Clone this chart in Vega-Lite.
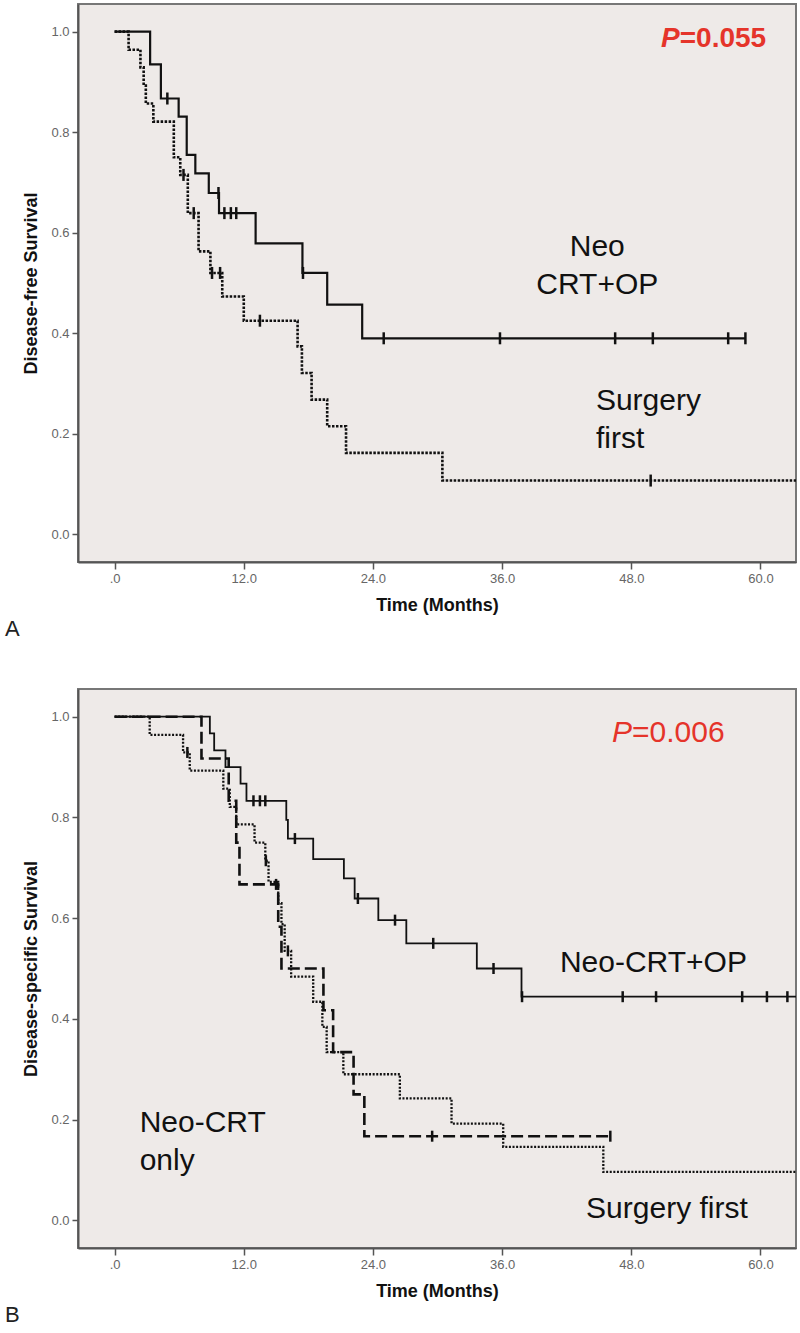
{
  "$schema": "https://vega.github.io/schema/vega-lite/v6.json",
  "background": "white",
  "padding": {"left": 3, "top": 3, "right": 2, "bottom": 0},
  "config": {
    "view": {"fill": "#EEEAE8", "stroke": "#777777", "strokeWidth": 2},
    "axis": {
      "grid": false, "domainColor": "#555555", "domainWidth": 2,
      "tickColor": "#555555", "tickWidth": 1.5,
      "labelColor": "#666666", "labelFont": "Liberation Sans", "labelFontSize": 13,
      "titleFont": "Liberation Sans", "titleFontSize": 18, "titleFontWeight": "bold", "titleColor": "#111111"
    },
    "title": {"font": "Liberation Sans"},
    "text": {"font": "Liberation Sans"},
    "concat": {"spacing": 47}
  },
  "datasets": {
    "kmA": [
      {"group": "Neo CRT+OP", "t": 0, "s": 1.0},
      {"group": "Neo CRT+OP", "t": 3.3, "s": 0.935},
      {"group": "Neo CRT+OP", "t": 4.3, "s": 0.867},
      {"group": "Neo CRT+OP", "t": 5.95, "s": 0.831},
      {"group": "Neo CRT+OP", "t": 6.7, "s": 0.755},
      {"group": "Neo CRT+OP", "t": 7.5, "s": 0.718},
      {"group": "Neo CRT+OP", "t": 8.75, "s": 0.679},
      {"group": "Neo CRT+OP", "t": 9.7, "s": 0.639},
      {"group": "Neo CRT+OP", "t": 13.1, "s": 0.579},
      {"group": "Neo CRT+OP", "t": 17.45, "s": 0.52},
      {"group": "Neo CRT+OP", "t": 19.75, "s": 0.457},
      {"group": "Neo CRT+OP", "t": 23.0, "s": 0.39},
      {"group": "Neo CRT+OP", "t": 58.6, "s": 0.39},
      {"group": "Surgery first", "t": 0, "s": 1.0},
      {"group": "Surgery first", "t": 1.3, "s": 0.964},
      {"group": "Surgery first", "t": 2.4, "s": 0.929},
      {"group": "Surgery first", "t": 2.7, "s": 0.893},
      {"group": "Surgery first", "t": 2.9, "s": 0.857},
      {"group": "Surgery first", "t": 3.6, "s": 0.821},
      {"group": "Surgery first", "t": 5.5, "s": 0.75},
      {"group": "Surgery first", "t": 6.1, "s": 0.715},
      {"group": "Surgery first", "t": 6.8, "s": 0.639},
      {"group": "Surgery first", "t": 7.8, "s": 0.563},
      {"group": "Surgery first", "t": 8.9, "s": 0.52},
      {"group": "Surgery first", "t": 10.0, "s": 0.473},
      {"group": "Surgery first", "t": 12.0, "s": 0.425},
      {"group": "Surgery first", "t": 17.0, "s": 0.374},
      {"group": "Surgery first", "t": 17.4, "s": 0.321},
      {"group": "Surgery first", "t": 18.3, "s": 0.268},
      {"group": "Surgery first", "t": 19.75, "s": 0.215},
      {"group": "Surgery first", "t": 21.5, "s": 0.162},
      {"group": "Surgery first", "t": 30.45, "s": 0.107},
      {"group": "Surgery first", "t": 63.3, "s": 0.107}
    ],
    "censA": [
      {"t": 4.9, "s": 0.867}, {"t": 9.65, "s": 0.679}, {"t": 10.2, "s": 0.639},
      {"t": 10.8, "s": 0.639}, {"t": 11.3, "s": 0.639}, {"t": 17.5, "s": 0.52},
      {"t": 25.0, "s": 0.39}, {"t": 35.8, "s": 0.39}, {"t": 46.5, "s": 0.39},
      {"t": 50.0, "s": 0.39}, {"t": 57.0, "s": 0.39}, {"t": 58.6, "s": 0.39},
      {"t": 6.4, "s": 0.715}, {"t": 7.35, "s": 0.639}, {"t": 9.05, "s": 0.52},
      {"t": 9.8, "s": 0.52}, {"t": 13.5, "s": 0.425}, {"t": 49.8, "s": 0.107}
    ],
    "kmB": [
      {"group": "Neo-CRT+OP", "t": 0, "s": 1.0},
      {"group": "Neo-CRT+OP", "t": 8.85, "s": 0.967},
      {"group": "Neo-CRT+OP", "t": 9.25, "s": 0.933},
      {"group": "Neo-CRT+OP", "t": 10.3, "s": 0.9},
      {"group": "Neo-CRT+OP", "t": 11.7, "s": 0.867},
      {"group": "Neo-CRT+OP", "t": 12.25, "s": 0.833},
      {"group": "Neo-CRT+OP", "t": 15.95, "s": 0.795},
      {"group": "Neo-CRT+OP", "t": 16.1, "s": 0.758},
      {"group": "Neo-CRT+OP", "t": 18.45, "s": 0.717},
      {"group": "Neo-CRT+OP", "t": 21.3, "s": 0.679},
      {"group": "Neo-CRT+OP", "t": 22.3, "s": 0.639},
      {"group": "Neo-CRT+OP", "t": 24.5, "s": 0.596},
      {"group": "Neo-CRT+OP", "t": 27.1, "s": 0.55},
      {"group": "Neo-CRT+OP", "t": 33.65, "s": 0.5},
      {"group": "Neo-CRT+OP", "t": 37.8, "s": 0.444},
      {"group": "Neo-CRT+OP", "t": 63.3, "s": 0.444},
      {"group": "Neo-CRT only", "t": 0, "s": 1.0},
      {"group": "Neo-CRT only", "t": 8.07, "s": 0.917},
      {"group": "Neo-CRT only", "t": 10.6, "s": 0.833},
      {"group": "Neo-CRT only", "t": 11.3, "s": 0.75},
      {"group": "Neo-CRT only", "t": 11.6, "s": 0.667},
      {"group": "Neo-CRT only", "t": 15.2, "s": 0.583},
      {"group": "Neo-CRT only", "t": 15.5, "s": 0.5},
      {"group": "Neo-CRT only", "t": 19.4, "s": 0.417},
      {"group": "Neo-CRT only", "t": 20.3, "s": 0.334},
      {"group": "Neo-CRT only", "t": 22.2, "s": 0.25},
      {"group": "Neo-CRT only", "t": 23.2, "s": 0.167},
      {"group": "Neo-CRT only", "t": 46.05, "s": 0.167},
      {"group": "Surgery first", "t": 0, "s": 1.0},
      {"group": "Surgery first", "t": 3.26, "s": 0.964},
      {"group": "Surgery first", "t": 6.36, "s": 0.929},
      {"group": "Surgery first", "t": 6.98, "s": 0.893},
      {"group": "Surgery first", "t": 10.1, "s": 0.857},
      {"group": "Surgery first", "t": 10.7, "s": 0.821},
      {"group": "Surgery first", "t": 11.3, "s": 0.786},
      {"group": "Surgery first", "t": 13.0, "s": 0.75},
      {"group": "Surgery first", "t": 14.0, "s": 0.714},
      {"group": "Surgery first", "t": 14.3, "s": 0.672},
      {"group": "Surgery first", "t": 15.2, "s": 0.63},
      {"group": "Surgery first", "t": 15.5, "s": 0.588},
      {"group": "Surgery first", "t": 15.8, "s": 0.535},
      {"group": "Surgery first", "t": 16.4, "s": 0.484},
      {"group": "Surgery first", "t": 18.45, "s": 0.434},
      {"group": "Surgery first", "t": 19.3, "s": 0.384},
      {"group": "Surgery first", "t": 19.7, "s": 0.334},
      {"group": "Surgery first", "t": 21.25, "s": 0.29},
      {"group": "Surgery first", "t": 26.5, "s": 0.242},
      {"group": "Surgery first", "t": 31.3, "s": 0.192},
      {"group": "Surgery first", "t": 36.1, "s": 0.146},
      {"group": "Surgery first", "t": 45.4, "s": 0.096},
      {"group": "Surgery first", "t": 63.3, "s": 0.096}
    ],
    "censB": [
      {"t": 12.9, "s": 0.833}, {"t": 13.5, "s": 0.833}, {"t": 14.0, "s": 0.833},
      {"t": 16.75, "s": 0.758}, {"t": 22.6, "s": 0.639}, {"t": 26.05, "s": 0.596},
      {"t": 29.6, "s": 0.55}, {"t": 35.2, "s": 0.5}, {"t": 37.85, "s": 0.444},
      {"t": 47.2, "s": 0.444}, {"t": 50.3, "s": 0.444}, {"t": 58.3, "s": 0.444},
      {"t": 60.6, "s": 0.444}, {"t": 62.5, "s": 0.444},
      {"t": 15.0, "s": 0.667}, {"t": 29.5, "s": 0.167}, {"t": 46.05, "s": 0.167},
      {"t": 6.76, "s": 0.929}, {"t": 14.05, "s": 0.714}, {"t": 16.1, "s": 0.535}
    ]
  },
  "vconcat": [
    {
      "width": 718,
      "height": 558,
      "title": {"text": "A", "orient": "bottom", "anchor": "start", "frame": "bounds", "fontSize": 22, "fontWeight": "normal", "color": "#222222", "offset": 5, "dx": -18},
      "encoding": {
        "x": {"field": "t", "type": "quantitative",
              "scale": {"domain": [-3.4, 63.3], "nice": false, "zero": false},
              "axis": {"title": "Time (Months)", "values": [0, 12, 24, 36, 48, 60],
                       "labelExpr": "datum.value === 0 ? '.0' : format(datum.value, '.1f')",
                       "tickSize": 7, "labelPadding": 3, "titlePadding": 11}},
        "y": {"field": "s", "type": "quantitative",
              "scale": {"domain": [-0.055, 1.055], "nice": false, "zero": false},
              "axis": {"title": "Disease-free Survival", "values": [0, 0.2, 0.4, 0.6, 0.8, 1.0],
                       "format": ".1f", "tickSize": 6, "labelPadding": 3, "titlePadding": 10}}
      },
      "layer": [
        {
          "data": {"name": "kmA"},
          "transform": [{"filter": "datum.group === 'Surgery first'"}],
          "mark": {"type": "line", "interpolate": "step-after", "stroke": "#111111", "strokeWidth": 2.6, "strokeDash": [2.5, 1.5]}
        },
        {
          "data": {"name": "kmA"},
          "transform": [{"filter": "datum.group === 'Neo CRT+OP'"}],
          "mark": {"type": "line", "interpolate": "step-after", "stroke": "#111111", "strokeWidth": 2.2}
        },
        {
          "data": {"name": "censA"},
          "mark": {"type": "tick", "orient": "vertical", "size": 12, "thickness": 2.5, "color": "#111111", "opacity": 1}
        },
        {
          "data": {"values": [{"t": 44.84, "s": 0.553, "label": "Neo\nCRT+OP"}]},
          "mark": {"type": "text", "align": "center", "baseline": "alphabetic", "fontSize": 30, "lineBreak": "\n", "lineHeight": 38, "color": "#111111"},
          "encoding": {"text": {"field": "label"}}
        },
        {
          "data": {"values": [{"t": 44.71, "s": 0.248, "label": "Surgery\nfirst"}]},
          "mark": {"type": "text", "align": "left", "baseline": "alphabetic", "fontSize": 30, "lineBreak": "\n", "lineHeight": 38, "color": "#111111"},
          "encoding": {"text": {"field": "label"}}
        },
        {
          "data": {"values": [{"t": 52.5, "s": 0.97, "p": "P", "v": "=0.055"}]},
          "mark": {"type": "text", "align": "right", "baseline": "alphabetic", "fontSize": 28, "fontStyle": "italic", "fontWeight": "bold", "color": "#E5342A"},
          "encoding": {"text": {"field": "p"}}
        },
        {
          "data": {"values": [{"t": 52.5, "s": 0.97, "p": "P", "v": "=0.055"}]},
          "mark": {"type": "text", "align": "left", "baseline": "alphabetic", "fontSize": 28, "fontWeight": "bold", "color": "#E5342A"},
          "encoding": {"text": {"field": "v"}}
        }
      ]
    },
    {
      "width": 718,
      "height": 559,
      "title": {"text": "B", "orient": "bottom", "anchor": "start", "frame": "bounds", "fontSize": 22, "fontWeight": "normal", "color": "#222222", "offset": 5, "dx": -18},
      "encoding": {
        "x": {"field": "t", "type": "quantitative",
              "scale": {"domain": [-3.4, 63.3], "nice": false, "zero": false},
              "axis": {"title": "Time (Months)", "values": [0, 12, 24, 36, 48, 60],
                       "labelExpr": "datum.value === 0 ? '.0' : format(datum.value, '.1f')",
                       "tickSize": 7, "labelPadding": 3, "titlePadding": 11}},
        "y": {"field": "s", "type": "quantitative",
              "scale": {"domain": [-0.055, 1.055], "nice": false, "zero": false},
              "axis": {"title": "Disease-specific Survival", "values": [0, 0.2, 0.4, 0.6, 0.8, 1.0],
                       "format": ".1f", "tickSize": 6, "labelPadding": 3, "titlePadding": 10}}
      },
      "layer": [
        {
          "data": {"name": "kmB"},
          "transform": [{"filter": "datum.group === 'Surgery first'"}],
          "mark": {"type": "line", "interpolate": "step-after", "stroke": "#111111", "strokeWidth": 2.3, "strokeDash": [2, 1.6]}
        },
        {
          "data": {"name": "kmB"},
          "transform": [{"filter": "datum.group === 'Neo-CRT only'"}],
          "mark": {"type": "line", "interpolate": "step-after", "stroke": "#111111", "strokeWidth": 2.6, "strokeDash": [12, 5]}
        },
        {
          "data": {"name": "kmB"},
          "transform": [{"filter": "datum.group === 'Neo-CRT+OP'"}],
          "mark": {"type": "line", "interpolate": "step-after", "stroke": "#111111", "strokeWidth": 1.8}
        },
        {
          "data": {"name": "censB"},
          "mark": {"type": "tick", "orient": "vertical", "size": 11, "thickness": 2.5, "color": "#111111", "opacity": 1}
        },
        {
          "data": {"values": [{"t": 41.37, "s": 0.493, "label": "Neo-CRT+OP"}, {"t": 2.33, "s": 0.176, "label": "Neo-CRT\nonly"}, {"t": 43.8, "s": 0.004, "label": "Surgery first"}]},
          "mark": {"type": "text", "align": "left", "baseline": "alphabetic", "fontSize": 30, "lineBreak": "\n", "lineHeight": 38, "color": "#111111"},
          "encoding": {"text": {"field": "label"}}
        },
        {
          "data": {"values": [{"t": 48.07, "s": 0.95, "p": "P", "v": "=0.006"}]},
          "mark": {"type": "text", "align": "right", "baseline": "alphabetic", "fontSize": 30, "fontStyle": "italic", "color": "#E5342A"},
          "encoding": {"text": {"field": "p"}}
        },
        {
          "data": {"values": [{"t": 48.07, "s": 0.95, "p": "P", "v": "=0.006"}]},
          "mark": {"type": "text", "align": "left", "baseline": "alphabetic", "fontSize": 30, "color": "#E5342A"},
          "encoding": {"text": {"field": "v"}}
        }
      ]
    }
  ]
}
